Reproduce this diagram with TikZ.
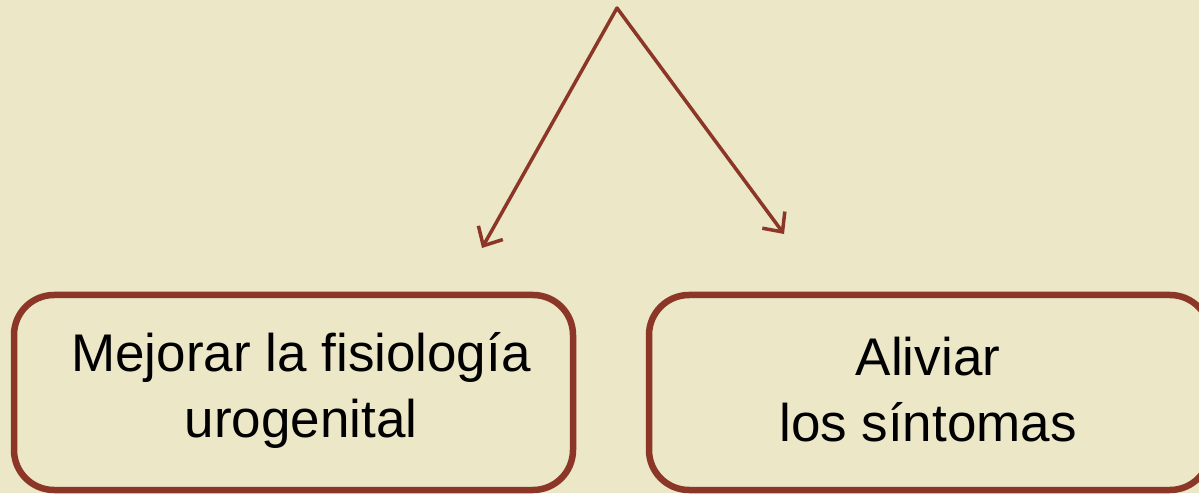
\documentclass[tikz,border=0pt]{standalone}
\usepackage{fontspec}
\setmainfont{Liberation Sans}
\usetikzlibrary{arrows.meta}
\definecolor{bg}{HTML}{EBE7C7}
\definecolor{dred}{HTML}{8B3627}
\tikzset{
  goalbox/.style={draw=dred, line width=6.5pt, rounded corners=40pt, fill=bg},
  goaltext/.style={font=\fontsize{53}{66}\selectfont, align=center, text=black},
  branch/.style={draw=dred, line width=3.5pt, -{Straight Barb[length=15pt,width=28pt,line width=3.5pt]}}
}
\begin{document}
\begin{tikzpicture}[x=1pt,y=1pt]
\fill[bg] (0,0) rectangle (1199,493);
\useasboundingbox (0,0) rectangle (1199,493);
% boxes
\draw[goalbox] (14,3) rectangle (573,198);
\draw[goalbox] (649,3) rectangle (1210,198);
\node[goaltext] (left) at (301,103) {Mejorar la fisiología\\urogenital};
\node[goaltext] (right) at (928,103) {Aliviar\\los síntomas};
% arrows
\coordinate (apex) at (617,485);
\coordinate (tipL) at (482,245);
\coordinate (tipR) at (784,259);
\draw[branch, line cap=round] (apex) -- (tipL);
\draw[branch, line cap=round] (apex) -- (tipR);
\end{tikzpicture}
\end{document}
